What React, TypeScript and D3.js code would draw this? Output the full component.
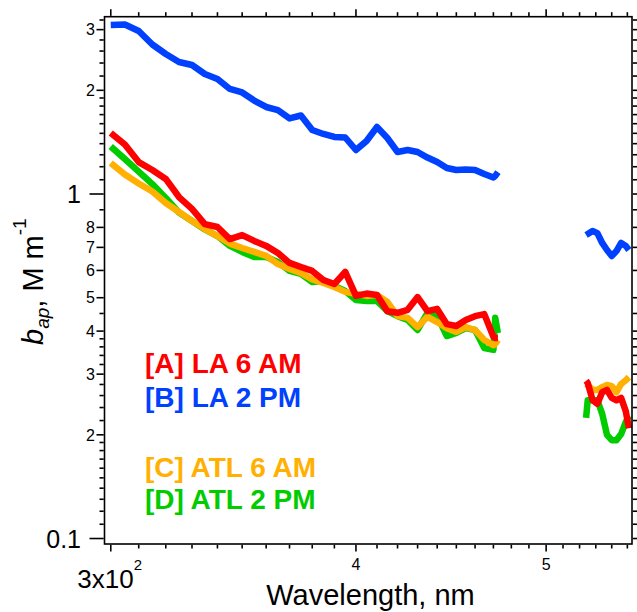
import React, { useEffect, useRef } from 'react';
import * as d3 from 'd3';

// wavelength grid (nm); 500 is the gap between the two measured bands
const wavelength = [300, 305, 310, 315, 320, 325, 330, 335, 340, 345, 350, 355, 360, 365, 370, 375, 380, 385, 390, 395,
  400, 405, 410, 415, 420, 425, 430, 435, 440, 445, 450, 455, 460, 465, 470, 471, 472.5,
  500,
  524, 525, 528, 531, 534, 537, 540, 543, 546, 549, 551];

// b_ap, M m^-1
const laAM = [1.503, 1.392, 1.238, 1.174, 1.106, 0.980, 0.905, 0.818, 0.802, 0.740, 0.760, 0.731, 0.707, 0.674, 0.631, 0.614, 0.598, 0.563, 0.548, 0.594,
  0.506, 0.514, 0.509, 0.457, 0.452, 0.461, 0.502, 0.457, 0.464, 0.419, 0.414, 0.431, 0.442, 0.448, 0.385, 0.382, 0.382,
  null,
  0.287, 0.283, 0.252, 0.246, 0.266, 0.270, 0.256, 0.252, 0.256, 0.234, 0.209];

const laPM = [3.094, 3.105, 2.972, 2.716, 2.549, 2.417, 2.369, 2.230, 2.157, 2.018, 1.971, 1.867, 1.789, 1.753, 1.657, 1.690, 1.534, 1.494, 1.464, 1.459,
  1.342, 1.425, 1.565, 1.454, 1.324, 1.342, 1.324, 1.276, 1.238, 1.190, 1.174, 1.178, 1.174, 1.143, 1.117, 1.128, 1.158,
  null,
  0.760, 0.765, 0.781, 0.770, 0.721, 0.688, 0.661, 0.683, 0.721, 0.707, 0.688];

const atlAM = [1.230, 1.139, 1.073, 1.017, 0.942, 0.887, 0.835, 0.791, 0.755, 0.718, 0.697, 0.679, 0.661, 0.626, 0.606, 0.590, 0.565, 0.552, 0.537, 0.520,
  0.513, 0.506, 0.509, 0.486, 0.442, 0.437, 0.411, 0.440, 0.425, 0.408, 0.398, 0.411, 0.403, 0.377, 0.364, 0.367, 0.377,
  null,
  0.281, 0.279, 0.270, 0.270, 0.275, 0.279, 0.277, 0.266, 0.281, 0.288, 0.294];

const atlPM = [1.374, 1.264, 1.162, 1.069, 0.974, 0.884, 0.835, 0.789, 0.755, 0.707, 0.679, 0.656, 0.656, 0.635, 0.598, 0.586, 0.555, 0.559, 0.541, 0.523,
  0.492, 0.489, 0.489, 0.457, 0.442, 0.431, 0.403, 0.452, 0.442, 0.387, 0.395, 0.408, 0.403, 0.357, 0.353, 0.437, 0.395,
  null,
  0.224, 0.252, 0.252, 0.252, 0.230, 0.200, 0.193, 0.193, 0.201, 0.218, 0.227];

const legendNames = ['[A] LA 6 AM', '[B] LA 2 PM', '[C] ATL 6 AM', '[D] ATL 2 PM'];
const colors = ['#ff0000', '#0040ff', '#ffb000', '#00cc00'];

const yDecades = [0.1, 1];
const yLabeled = [0.2, 0.3, 0.4, 0.5, 0.6, 0.7, 0.8, 2, 3];
const yMinor = [0.11, 0.12, 0.13, 0.14, 0.15, 0.16, 0.17, 0.18, 0.19, 0.22, 0.24, 0.26, 0.28, 0.32, 0.34, 0.36, 0.38, 0.45, 0.9,
  1.1, 1.2, 1.3, 1.4, 1.5, 1.6, 1.7, 1.8, 1.9, 2.2, 2.4, 2.6, 2.8, 3.2];
const xMajor = [300, 400, 500];
const xMinor = [310, 320, 330, 340, 350, 360, 370, 380, 390, 410, 420, 430, 440, 450, 460, 470, 480, 490, 510, 520, 530, 540, 550];

const font = 'Liberation Sans, Arial, Helvetica, sans-serif';

export default function App() {
  const svgRef = useRef<SVGSVGElement>(null);

  useEffect(() => {
    const svg = d3.select(svgRef.current);
    svg.selectAll('*').remove();

    const left = 104.5, right = 632, top = 16.7, bottom = 544;
    const x = d3.scaleLog().domain([297.8, 553]).range([left, right]);
    const y = d3.scaleLog().domain([0.0964, 3.271]).range([bottom, top]);

    // traces, drawn D, C, B, A so red ends up on top
    const series = [
      { vals: atlPM, color: colors[3] },
      { vals: atlAM, color: colors[2] },
      { vals: laPM, color: colors[1] },
      { vals: laAM, color: colors[0] },
    ];
    const line = d3.line<[number, number | null]>()
      .defined(d => d[1] != null)
      .x(d => x(d[0]))
      .y(d => y(d[1] as number));

    svg.append('g').selectAll('path')
      .data(series)
      .join('path')
      .attr('d', s => line(wavelength.map((w, i) => [w, s.vals[i]])))
      .attr('fill', 'none')
      .attr('stroke', s => s.color)
      .attr('stroke-width', 6.5)
      .attr('stroke-linejoin', 'round');

    // frame
    const ax = svg.append('g').attr('stroke', '#000').attr('stroke-width', 1.6);
    ax.append('rect').attr('x', left).attr('y', top)
      .attr('width', right - left).attr('height', bottom - top).attr('fill', 'none');

    const yTicks = [
      ...yDecades.map(v => ({ v, len: 15 })),
      ...yLabeled.map(v => ({ v, len: 8 })),
      ...yMinor.map(v => ({ v, len: 5 })),
    ];
    ax.selectAll('line.yl').data(yTicks).join('line').attr('class', 'yl')
      .attr('x1', left - 0.8).attr('x2', d => left - d.len)
      .attr('y1', d => y(d.v)).attr('y2', d => y(d.v));
    ax.selectAll('line.yr').data(yTicks).join('line').attr('class', 'yr')
      .attr('x1', right + 0.8).attr('x2', d => right + Math.min(d.len, 6))
      .attr('y1', d => y(d.v)).attr('y2', d => y(d.v));

    const xTicks = [
      ...xMajor.map(v => ({ v, len: 7.5 })),
      ...xMinor.map(v => ({ v, len: 4.5 })),
    ];
    ax.selectAll('line.xb').data(xTicks).join('line').attr('class', 'xb')
      .attr('x1', d => x(d.v)).attr('x2', d => x(d.v))
      .attr('y1', bottom + 0.8).attr('y2', d => bottom + d.len);
    ax.selectAll('line.xt').data(xTicks).join('line').attr('class', 'xt')
      .attr('x1', d => x(d.v)).attr('x2', d => x(d.v))
      .attr('y1', top - 0.8).attr('y2', d => top - d.len);

    // y tick labels
    const lab = svg.append('g').attr('font-family', font).attr('fill', '#000');
    lab.selectAll('text.yd').data(yDecades).join('text').attr('class', 'yd')
      .attr('x', 81).attr('y', d => y(d)).attr('dy', '0.36em')
      .attr('text-anchor', 'end').attr('font-size', 25)
      .text(d => String(d));
    lab.selectAll('text.ys').data(yLabeled).join('text').attr('class', 'ys')
      .attr('x', 95).attr('y', d => y(d)).attr('dy', '0.36em')
      .attr('text-anchor', 'end').attr('font-size', 16)
      .text(d => d < 1 ? String(Math.round(d * 10)) : String(d));

    // x tick labels
    lab.selectAll('text.xs').data([400, 500]).join('text').attr('class', 'xs')
      .attr('x', d => x(d)).attr('y', 570)
      .attr('text-anchor', 'middle').attr('font-size', 16)
      .text(d => String(d / 100));
    const first = lab.append('text').attr('x', x(300) - 33.5).attr('y', 588).attr('font-size', 26);
    first.append('tspan').text('3x10');
    first.append('tspan').attr('font-size', 15).attr('dy', -18).text('2');

    // axis titles
    lab.append('text').attr('x', 370.5).attr('y', 605).attr('text-anchor', 'middle')
      .attr('font-size', 29).text('Wavelength, nm');

    const yt = lab.append('text').attr('transform', 'translate(43,345) rotate(-90)').attr('font-size', 29);
    yt.append('tspan').attr('font-style', 'italic').text('b');
    yt.append('tspan').attr('font-style', 'italic').attr('font-size', 19).attr('dy', 6).text('ap');
    yt.append('tspan').attr('dy', -6).text(', M m');
    yt.append('tspan').attr('font-size', 19).attr('dy', -17).text('-1');

    // legend
    const legY = [373, 407, 477, 509];
    svg.append('g').selectAll('text')
      .data(legendNames)
      .join('text')
      .attr('x', 145).attr('y', (d, i) => legY[i])
      .attr('font-family', font).attr('font-weight', 'bold').attr('font-size', 28)
      .attr('fill', (d, i) => colors[i])
      .text(d => d);
  }, []);

  return (
    <svg ref={svgRef} width={637} height={612}
      style={{ position: 'absolute', left: 0, top: 0, background: '#fff' }} />
  );
}
